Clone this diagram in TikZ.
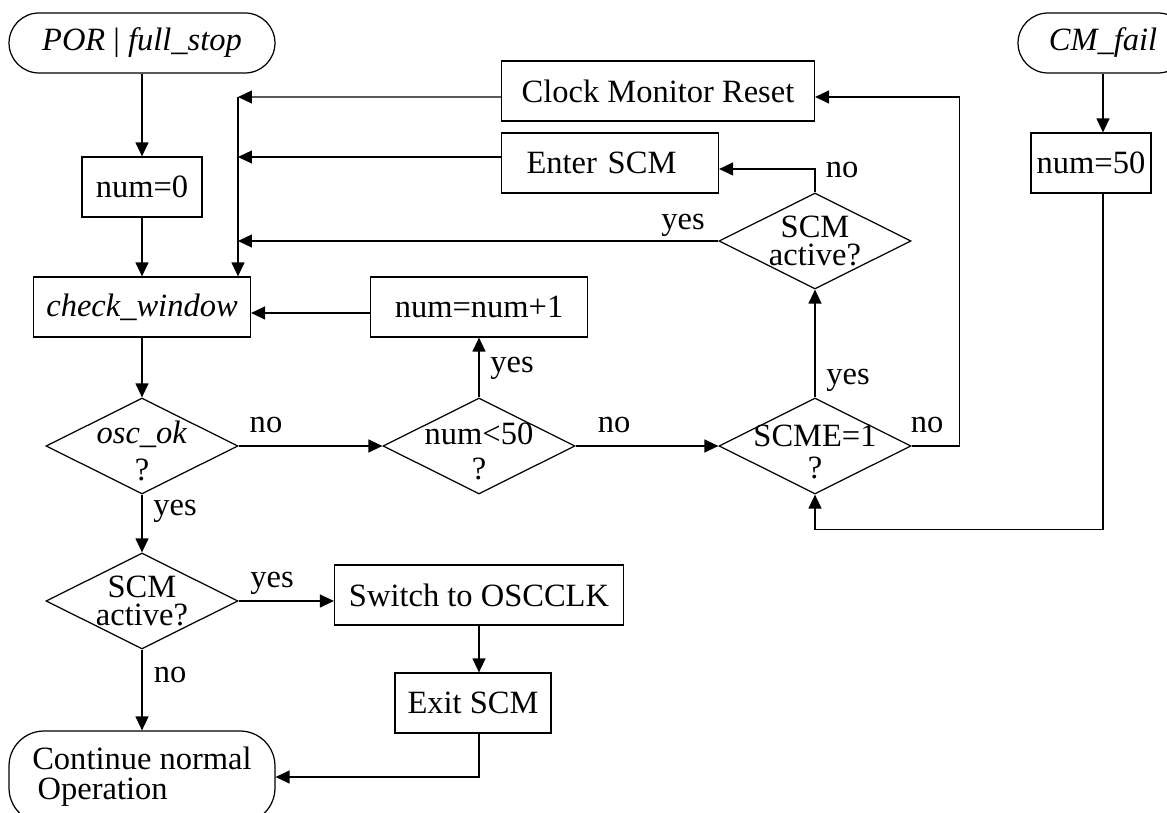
\documentclass[tikz,border=0pt]{standalone}
\usepackage{fontspec}
\setmainfont{Liberation Serif}
\usetikzlibrary{shapes.geometric,arrows.meta}
\begin{document}
\begin{tikzpicture}[x = 0.02cm, y = -0.02cm, line width = 0.7pt,
        >={Triangle[length = 0.28cm, width = 0.26cm]},
        every node/.style = {font = \fontsize{18.5}{18}\selectfont},
        box/.style = {draw, minimum height = 1.2cm, inner sep = 0pt},
        terminal/.style = {draw, rounded corners = 0.6cm, minimum height = 1.2cm, inner sep = 0pt},
        decision/.style = {draw, diamond, minimum width = 3.84cm, minimum height = 1.92cm, inner sep = 0pt}]
        \useasboundingbox (0, 0) rectangle (1167, 813);
        % left column
        \node [terminal, minimum width = 5.32cm] (por) at (142, 43) {\textit{POR} | \textit{full\_stop}};
        \node [box, minimum width = 2.4cm] (n0) at (142, 187) {num=0};
        \node [box, minimum width = 4.34cm] (cw) at (142, 307) {\textit{check\_window}};
        \node [decision, label = {[align = center, yshift = -0.1cm]center:\textit{osc\_ok}\\[3pt]?}] (osc) at (142, 446) {};
        \node [decision, label = {[align = center]center:SCM\\[-2pt]active?}] (scmA) at (142, 601) {};
        \node [terminal, rounded corners = 0.7cm, minimum width = 5.32cm, minimum height = 1.84cm, align = left] (cont) at (142, 777) {Continue normal\\[-1pt]\,Operation};
        % middle
        \node [box, minimum width = 4.34cm] (inc) at (479, 307) {num=num+1};
        \node [decision, label = {[align = center, yshift = -0.1cm]center:num<50\\[2pt]?}] (lt50) at (479, 446) {};
        \node [box, minimum width = 5.78cm] (sw) at (479, 595) {Switch to OSCCLK};
        \node [box, minimum width = 3.12cm] (ex) at (473, 703) {Exit SCM};
        \node [box, minimum width = 6.26cm] (cmr) at (658, 91) {Clock Monitor Reset};
        \node [box, minimum width = 4.34cm, text width = 3.34cm, inner xsep = 0.5cm, align = left] (scm) at (610, 163) {Enter SCM};
        \node [decision, label = {[align = center]center:SCM\\[-2pt]active?}] (scmB) at (815, 241) {};
        \node [decision, label = {[align = center, yshift = -0.12cm]center:SCME=1\\?}] (scme) at (815, 446) {};
        % right column
        \node [terminal, minimum width = 3.4cm] (cmf) at (1103, 43) {\textit{CM\_fail}};
        \node [box, minimum width = 2.4cm] (n50) at (1091, 163) {num=50};
        \coordinate (bus) at (238, 97);
        % labels
        \node (no1) at (266, 425) {no};
        \node (yes1) at (512, 368) {yes};
        \node (no2) at (614, 425) {no};
        \node (yes2) at (175, 511) {yes};
        \node (yes3) at (272, 583) {yes};
        \node (no3) at (170, 675) {no};
        \node (yes4) at (848, 380) {yes};
        \node (no4) at (842, 170) {no};
        \node (yes5) at (683, 225) {yes};
        \node (no5) at (927, 425) {no};
        % connectors
        \draw [->] (por) -- (n0);
        \draw [->] (n0) -- (cw);
        \draw [->] (cw) -- (osc);
        \draw [->] (osc) -- (lt50);
        \draw [->] (lt50) -- (inc);
        \draw [->] ([yshift = -0.12cm] inc.west) -- ([yshift = -0.12cm] cw.east);
        \draw [->] (lt50) -- (scme);
        \draw [->] (scme) -- (scmB);
        \draw [->] (scmB.north) |- ([yshift = -0.12cm] scm.east);
        \draw [->] (scmB.west) -- (scmB.west -| bus);
        \draw [->] ([yshift = 0.12cm] scm.west) -- ([yshift = 0.12cm] scm.west -| bus);
        \draw [->] ([yshift = -0.12cm] cmr.west) -- (bus);
        \draw [->] (bus) -- (bus |- cw.north);
        \draw [->] (scme.east) -- ++(48, 0) |- ([yshift = -0.12cm] cmr.east);
        \draw [->] (cmf) -- (cmf |- n50.north);
        \draw [->] (cmf |- n50.south) -- ++(0, 336) -| (scme.south);
        \draw [->] (osc) -- (scmA);
        \draw [->] (scmA.east) -- (scmA.east -| sw.west);
        \draw [->] (scmA) -- (cont);
        \draw [->] (sw) -- (sw |- ex.north);
        \draw [->] (sw |- ex.south) |- (cont.east);
    \end{tikzpicture}
\end{document}
